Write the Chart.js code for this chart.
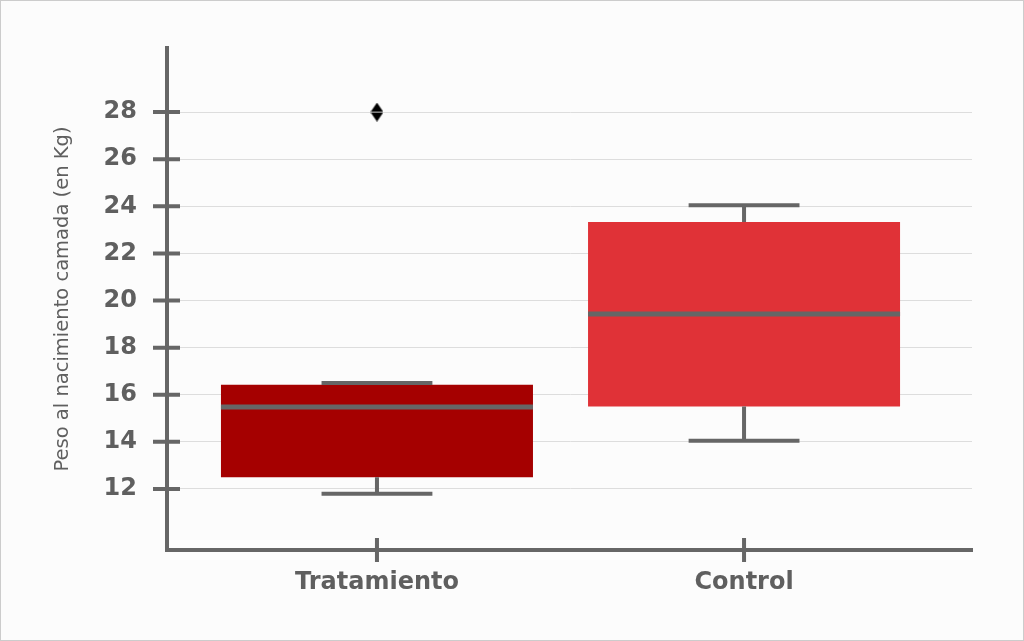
<!DOCTYPE html>
<html>
<head>
<meta charset="utf-8">
<script src="https://cdn.jsdelivr.net/npm/chart.js@4/dist/chart.umd.min.js"></script>
<style>
    html, body { margin: 0; padding: 0; background: #fcfcfc; }
    #wrap { width: 1024px; height: 641px; position: relative; }
</style>
</head>
<body>
<div id="wrap"><canvas id="boxChart" width="1024" height="641"></canvas></div>
<script>
// datos del boxplot
const categories = ['Tratamiento', 'Control'];
const whiskerLow = [11.8, 14.05];
const q1 = [12.5, 15.5];
const median = [15.48, 19.43];
const q3 = [16.42, 23.33];
const whiskerHigh = [16.5, 24.05];
const outliers = [{ x: 0, y: 28 }];
const boxColors = ['#a50000', '#e03237'];
const yTicks = [12, 14, 16, 18, 20, 22, 24, 26, 28];

const axisColor = '#666666';
const textColor = '#5f5f5f';

// marcador de diamante delgado
const diamond = document.createElement('canvas');
diamond.width = 13;
diamond.height = 19;
(function () {
    const c = diamond.getContext('2d');
    c.fillStyle = '#000';
    c.beginPath();
    c.moveTo(6.5, 0);
    c.lineTo(13, 9.5);
    c.lineTo(6.5, 19);
    c.lineTo(0, 9.5);
    c.closePath();
    c.fill();
    c.strokeStyle = '#cfcfcf';
    c.lineWidth = 1;
    c.beginPath();
    c.moveTo(0, 9.5);
    c.lineTo(13, 9.5);
    c.stroke();
})();

const frame = {
    id: 'frame',
    beforeDraw(chart) {
        const ctx = chart.ctx;
        ctx.save();
        ctx.fillStyle = '#fcfcfc';
        ctx.fillRect(0, 0, chart.width, chart.height);
        ctx.strokeStyle = '#cccccc';
        ctx.lineWidth = 1;
        ctx.strokeRect(0.5, 0.5, chart.width - 1, chart.height - 1);
        ctx.restore();
    }
};

// bigotes, medianas y marcas de los ejes
const boxParts = {
    id: 'boxParts',
    afterDatasetsDraw(chart) {
        const ctx = chart.ctx;
        const xs = chart.scales.x;
        const ys = chart.scales.y;
        const meta = chart.getDatasetMeta(0);
        ctx.save();
        ctx.strokeStyle = axisColor;
        ctx.lineWidth = 4;
        ctx.lineCap = 'butt';
        categories.forEach((cat, i) => {
            const bar = meta.data[i];
            const cx = xs.getPixelForValue(i);
            const capL = xs.getPixelForValue(i - 0.151);
            const capR = xs.getPixelForValue(i + 0.151);
            ctx.lineWidth = 4;
            ctx.beginPath();
            ctx.moveTo(cx, ys.getPixelForValue(q3[i]));
            ctx.lineTo(cx, ys.getPixelForValue(whiskerHigh[i]));
            ctx.moveTo(capL, ys.getPixelForValue(whiskerHigh[i]));
            ctx.lineTo(capR, ys.getPixelForValue(whiskerHigh[i]));
            ctx.moveTo(cx, ys.getPixelForValue(q1[i]));
            ctx.lineTo(cx, ys.getPixelForValue(whiskerLow[i]));
            ctx.moveTo(capL, ys.getPixelForValue(whiskerLow[i]));
            ctx.lineTo(capR, ys.getPixelForValue(whiskerLow[i]));
            ctx.stroke();
            ctx.lineWidth = 5;
            ctx.beginPath();
            ctx.moveTo(bar.x - bar.width / 2, ys.getPixelForValue(median[i]));
            ctx.lineTo(bar.x + bar.width / 2, ys.getPixelForValue(median[i]));
            ctx.stroke();
        });
        // marcas de los ejes
        const left = chart.chartArea.left;
        const bottom = chart.chartArea.bottom;
        ctx.lineWidth = 4;
        ctx.beginPath();
        yTicks.forEach(v => {
            const py = ys.getPixelForValue(v);
            ctx.moveTo(left - 14, py);
            ctx.lineTo(left + 13, py);
        });
        categories.forEach((cat, i) => {
            const px = xs.getPixelForValue(i);
            ctx.moveTo(px, bottom - 12);
            ctx.lineTo(px, bottom + 12);
        });
        ctx.stroke();
        ctx.restore();
    }
};

new Chart(document.getElementById('boxChart'), {
    type: 'bar',
    data: {
        datasets: [{
            type: 'bar',
            data: categories.map((c, i) => ({ x: i, y: [q1[i], q3[i]] })),
            backgroundColor: boxColors,
            borderColor: boxColors,
            borderWidth: 0,
            categoryPercentage: 1,
            barPercentage: 0.85,
            order: 2
        }, {
            type: 'scatter',
            data: outliers,
            pointStyle: diamond,
            pointRadius: 8,
            order: 1
        }]
    },
    options: {
        responsive: false,
        animation: false,
        layout: { padding: { top: 48, right: 52, left: 0, bottom: 0 } },
        plugins: {
            legend: { display: false },
            tooltip: { enabled: false }
        },
        scales: {
            x: {
                type: 'linear',
                offset: false,
                min: -0.572,
                max: 1.621,
                afterBuildTicks: s => { s.ticks = categories.map((c, i) => ({ value: i })); },
                afterFit: s => { s.height = 91; },
                grid: { display: false, drawTicks: false, offset: false },
                border: { display: true, color: axisColor, width: 4 },
                ticks: {
                    callback: v => categories[v],
                    color: textColor,
                    padding: 18,
                    font: { family: 'DejaVu Sans', size: 24, weight: 'bold' }
                }
            },
            y: {
                min: 9.41,
                max: 30.72,
                afterBuildTicks: s => { s.ticks = yTicks.map(v => ({ value: v })); },
                afterFit: s => { s.width = 167; },
                grid: { color: '#dddddd', lineWidth: 1, drawTicks: false },
                border: { display: true, color: axisColor, width: 4 },
                ticks: {
                    color: textColor,
                    padding: 30,
                    font: { family: 'DejaVu Sans', size: 24, weight: 'bold' }
                },
                title: {
                    display: true,
                    text: 'Peso al nacimiento camada (en Kg)',
                    color: textColor,
                    padding: { top: 51, bottom: 0 },
                    font: { family: 'DejaVu Sans', size: 19.5 }
                }
            }
        }
    },
    plugins: [frame, boxParts]
});
</script>
</body>
</html>
